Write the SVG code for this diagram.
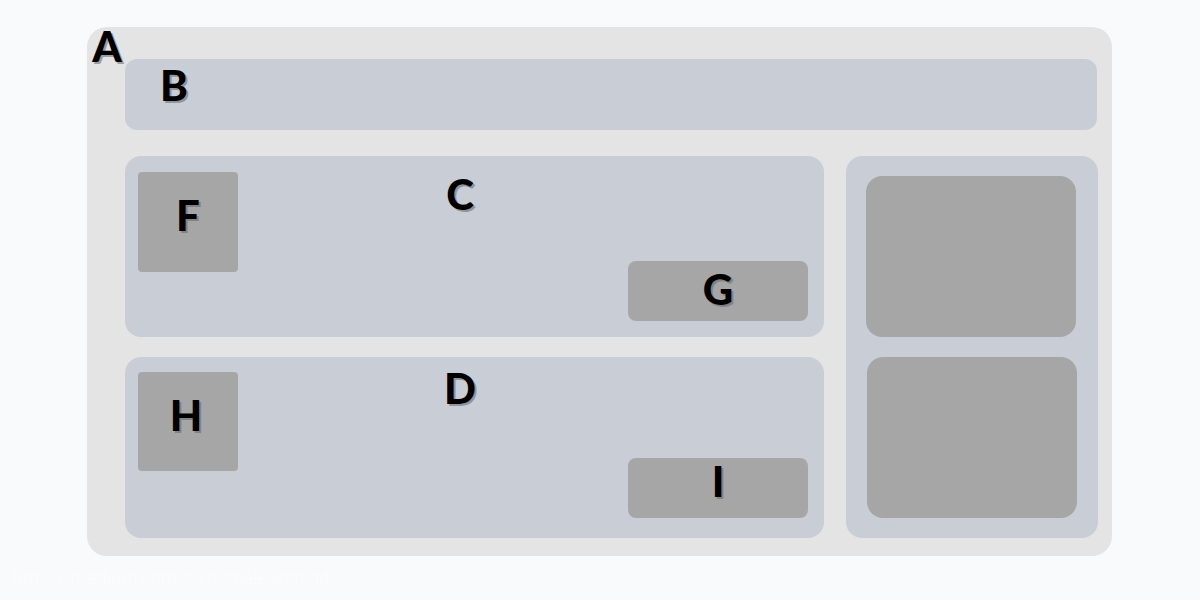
<svg xmlns="http://www.w3.org/2000/svg" width="1200" height="600" viewBox="0 0 1200 600">
<defs>
<style>
.bg{fill:#f9fafc}
.outer{fill:#e4e4e4}
.panel{fill:#c9ced6}
.box{fill:#a6a6a6}
.lbl{font-family:Lato,"Liberation Sans",sans-serif;font-weight:900;font-size:42px;text-anchor:middle}
.sh{fill:#666;opacity:0.55}
.fg{fill:#000}
.url{font-family:"Open Sans","Liberation Sans",sans-serif;font-weight:300;font-size:18px;fill:#fdfdfe}
</style>
</defs>
<rect class="bg" x="0" y="0" width="1200" height="600"/>
<g id="A">
<rect class="outer" x="87" y="27" width="1025" height="529" rx="20"/>
<text class="lbl sh" x="109" y="64" font-size="44">A</text>
<text class="lbl fg" x="107" y="62" font-size="44">A</text>
</g>
<g id="B">
<rect class="panel" x="125" y="59" width="972" height="71" rx="12"/>
<text class="lbl sh" x="176" y="103">B</text>
<text class="lbl fg" x="174" y="101">B</text>
</g>
<g id="C">
<rect class="panel" x="125" y="156" width="699" height="181" rx="16"/>
<text class="lbl sh" x="462" y="212">C</text>
<text class="lbl fg" x="460" y="210">C</text>
</g>
<g id="F">
<rect class="box" x="138" y="172" width="100" height="100" rx="4"/>
<text class="lbl sh" x="190" y="233">F</text>
<text class="lbl fg" x="188" y="231">F</text>
</g>
<g id="G">
<rect class="box" x="628" y="261" width="180" height="60" rx="8"/>
<text class="lbl sh" x="720" y="307">G</text>
<text class="lbl fg" x="718" y="305">G</text>
</g>
<g id="D">
<rect class="panel" x="125" y="357" width="699" height="181" rx="16"/>
<text class="lbl sh" x="462" y="406">D</text>
<text class="lbl fg" x="460" y="404">D</text>
</g>
<g id="H">
<rect class="box" x="138" y="372" width="100" height="99" rx="4"/>
<text class="lbl sh" x="188" y="433">H</text>
<text class="lbl fg" x="186" y="431">H</text>
</g>
<g id="I">
<rect class="box" x="628" y="458" width="180" height="60" rx="8"/>
<text class="lbl sh" x="720" y="499">I</text>
<text class="lbl fg" x="718" y="497">I</text>
</g>
<g id="E">
<rect class="panel" x="846" y="156" width="252" height="382" rx="16"/>
</g>
<g id="J">
<rect class="box" x="866" y="176" width="210" height="161" rx="16"/>
</g>
<g id="K">
<rect class="box" x="867" y="357" width="210" height="161" rx="16"/>
</g>
<g id="connectors"></g>
<text class="url" x="12" y="584">https://medium.com/@chameleonmind</text>
</svg>
